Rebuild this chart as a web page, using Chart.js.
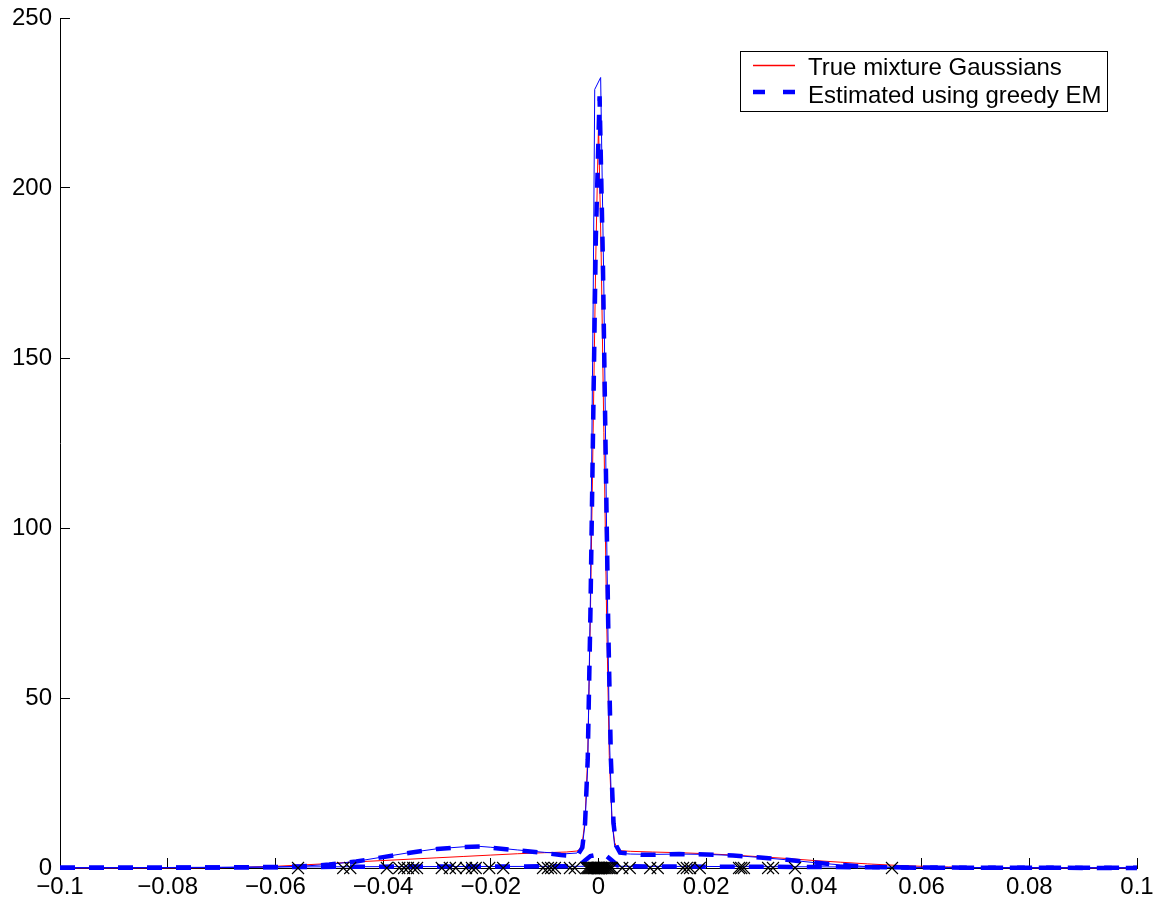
<!DOCTYPE html>
<html>
<head>
<meta charset="utf-8">
<script src="https://cdn.jsdelivr.net/npm/chart.js@4.4.1/dist/chart.umd.min.js"></script>
<style>
html,body{margin:0;padding:0;background:#ffffff;}
#wrap{width:1163px;height:907px;position:relative;}
</style>
</head>
<body>
<div id="wrap"><canvas id="c" width="1163" height="907"></canvas></div>
<script>
// ---- data ----
const seriesLabels = ['True mixture Gaussians', 'Estimated using greedy EM'];
const seriesColors = ['#ff0000', '#0000ff'];

// axis ranges
const xMin = -0.1, xMax = 0.1, xStep = 0.02;
const yMin = 0, yMax = 250, yStep = 50;

// true mixture (red, thin solid)
const redX = [-0.1, -0.09, -0.08, -0.07, -0.065, -0.06, -0.055, -0.05, -0.045, -0.04, -0.035, -0.03, -0.025, -0.02, -0.015, -0.01, -0.006, -0.004, -0.0035, -0.003, -0.0025, -0.002, -0.0015, -0.001, -0.0005, 0, 0.0005, 0.001, 0.0015, 0.002, 0.0025, 0.003, 0.0035, 0.004, 0.006, 0.01, 0.015, 0.02, 0.025, 0.03, 0.035, 0.04, 0.045, 0.05, 0.055, 0.06, 0.065, 0.07, 0.08, 0.09, 0.1];
const redY = [0.0, 0.01, 0.03, 0.1, 0.25, 0.5, 0.9, 1.3, 1.8, 2.2, 2.6, 3.0, 3.4, 3.8, 4.2, 4.5, 4.7, 5.0, 5.5, 7.5, 14, 33, 75, 128, 180, 219, 180, 128, 75, 33, 14, 7.5, 5.6, 5.1, 4.9, 4.7, 4.5, 4.2, 3.8, 3.3, 2.8, 2.2, 1.7, 1.2, 0.8, 0.5, 0.3, 0.15, 0.05, 0.01, 0.0];

// estimated mixture (blue, thick dashed)
const estX = [-0.1, -0.09, -0.08, -0.07, -0.06, -0.055, -0.05, -0.045, -0.04, -0.035, -0.03, -0.025, -0.022, -0.02, -0.015, -0.01, -0.007, -0.004, -0.003, -0.0025, -0.002, -0.0015, -0.001, -0.0005, 0.0002, 0.0008, 0.0013, 0.0018, 0.0023, 0.0028, 0.0033, 0.004, 0.006, 0.008, 0.01, 0.015, 0.02, 0.025, 0.03, 0.035, 0.04, 0.045, 0.05, 0.055, 0.06, 0.07, 0.08, 0.09, 0.1];
const estY = [0.05, 0.05, 0.08, 0.15, 0.3, 0.5, 1.0, 1.9, 3.2, 4.5, 5.6, 6.2, 6.3, 6.0, 5.2, 4.4, 3.8, 3.5, 6, 13, 32, 75, 130, 185, 227, 180, 125, 72, 32, 13, 6.5, 4.5, 4.2, 3.9, 3.9, 4.1, 4.0, 3.7, 3.1, 2.4, 1.6, 0.9, 0.35, 0.15, 0.08, 0.05, 0.05, 0.05, 0.05];

// low estimated component lying along the axis (blue, thick dashed)
const estLowX = [-0.1, -0.08, -0.06, -0.04, -0.02, -0.006, -0.0035, -0.0025, -0.0015, 0, 0.0015, 0.0025, 0.0035, 0.006, 0.02, 0.04, 0.06, 0.08, 0.1];
const estLowY = [0.05, 0.1, 0.25, 0.4, 0.45, 0.5, 0.8, 2.2, 3.5, 4.0, 3.5, 2.2, 0.8, 0.5, 0.4, 0.3, 0.15, 0.05, 0.02];

// estimate on a finer grid (blue, thin solid)
const fineX = [-0.1, -0.09, -0.08, -0.07, -0.06, -0.055, -0.05, -0.045, -0.04, -0.035, -0.03, -0.025, -0.022, -0.02, -0.015, -0.01, -0.006, -0.004, -0.003, -0.0025, -0.002, -0.0015, -0.001, -0.0007, 0.0004, 0.001, 0.0015, 0.002, 0.0025, 0.003, 0.004, 0.006, 0.01, 0.015, 0.02, 0.025, 0.03, 0.035, 0.04, 0.045, 0.05, 0.055, 0.06, 0.07, 0.08, 0.09, 0.1];
const fineY = [0.05, 0.05, 0.08, 0.15, 0.3, 0.55, 1.05, 1.95, 3.25, 4.55, 5.65, 6.25, 6.35, 6.1, 5.3, 4.6, 4.2, 4.4, 6.5, 13, 30, 80, 165, 229, 232.5, 170, 100, 40, 14, 6.5, 4.3, 4.1, 4.0, 4.1, 4.0, 3.7, 3.1, 2.4, 1.6, 0.9, 0.4, 0.15, 0.08, 0.05, 0.05, 0.05, 0.05];

// fine-grid low component (blue, thin solid)
const fineLowX = [-0.1, -0.08, -0.06, -0.04, -0.02, 0, 0.02, 0.04, 0.06, 0.08, 0.1];
const fineLowY = [0.1, 0.15, 0.3, 0.4, 0.45, 0.5, 0.45, 0.35, 0.2, 0.1, 0.05];

// data samples shown as crosses on the axis
const sampleX = [-0.0558, -0.0474, -0.0461, -0.0393, -0.0370, -0.0361, -0.0354, -0.0344, -0.0337, -0.0291, -0.0276, -0.0265, -0.0246, -0.0235, -0.0228, -0.0203, -0.0177, -0.0103, -0.0094, -0.0088, -0.0081, -0.0053, -0.0044,
  -0.0022, -0.0019, -0.0017, -0.0015, -0.0013, -0.0011, -0.0009, -0.0008, -0.0006, -0.0005, -0.0003, -0.0002, -0.0001, 0, 0.0001, 0.0002, 0.0004, 0.0005, 0.0007, 0.0009, 0.0011, 0.0013, 0.0016, 0.0019, 0.0022, 0.0025,
  0.0044, 0.0058, 0.0096, 0.0110, 0.0157, 0.0164, 0.0170, 0.0188, 0.0261, 0.0265, 0.0270, 0.0315, 0.0324, 0.0365, 0.0545];
const sampleY = 0;

// ---- build chart ----
function pts(xs, ys) { return xs.map((x, i) => ({x: x, y: ys[i]})); }

const FONT = "'Liberation Sans', Arial, Helvetica, sans-serif";

const boxLegend = {
  id: 'boxLegend',
  afterDraw(chart) {
    const ctx = chart.ctx;
    const ds = chart.data.datasets;
    ctx.save();
    ctx.fillStyle = '#ffffff';
    ctx.fillRect(741, 52, 366, 59);
    ctx.strokeStyle = '#000000';
    ctx.lineWidth = 1;
    ctx.strokeRect(740.5, 51.5, 367, 60);
    const rows = [{d: ds[0], c: seriesColors[0], w: 1.4, y: 65.5, base: 75}, {d: ds[1], c: seriesColors[1], w: 4.5, y: 92, base: 102.5}];
    rows.forEach(r => {
      ctx.beginPath();
      ctx.strokeStyle = r.c;
      ctx.lineWidth = r.w;
      ctx.setLineDash(r.d.borderDash ? [12, 18] : []);
      ctx.moveTo(753, r.y);
      ctx.lineTo(795, r.y);
      ctx.stroke();
      ctx.setLineDash([]);
      ctx.fillStyle = '#000000';
      ctx.font = '24px ' + FONT;
      ctx.textAlign = 'left';
      ctx.textBaseline = 'alphabetic';
      ctx.fillText(r.d.label, 808, r.base);
    });
    ctx.restore();
  }
};

const lineBase = {pointRadius: 0, pointHoverRadius: 0, tension: 0, fill: false, clip: 6};

new Chart(document.getElementById('c'), {
  type: 'line',
  data: {
    datasets: [
      Object.assign({}, lineBase, {label: seriesLabels[0], data: pts(redX, redY), borderColor: seriesColors[0], borderWidth: 1, order: 3}),
      Object.assign({}, lineBase, {label: seriesLabels[1], data: pts(estX, estY), borderColor: seriesColors[1], borderWidth: 4.5, borderDash: [15, 14], order: 1}),
      Object.assign({}, lineBase, {label: 'est-low', data: pts(estLowX, estLowY), borderColor: seriesColors[1], borderWidth: 4.5, borderDash: [15, 14], order: 1}),
      Object.assign({}, lineBase, {label: 'fine', data: pts(fineX, fineY), borderColor: seriesColors[1], borderWidth: 1, order: 2}),
      Object.assign({}, lineBase, {label: 'fine-low', data: pts(fineLowX, fineLowY), borderColor: seriesColors[1], borderWidth: 1, order: 2}),
      {label: 'samples', data: sampleX.map(x => ({x: x, y: sampleY})), showLine: false, pointStyle: 'crossRot', pointRadius: 8.5, pointHoverRadius: 8.5, borderColor: '#000000', backgroundColor: '#000000', pointBorderWidth: 1.1, borderWidth: 1.1, order: 0, clip: false}
    ]
  },
  options: {
    responsive: false,
    animation: false,
    devicePixelRatio: 1,
    events: [],
    layout: {padding: {top: 18, right: 26, left: 0, bottom: 0}},
    plugins: {legend: {display: false}, tooltip: {enabled: false}, title: {display: false}},
    scales: {
      x: {
        type: 'linear', position: 'bottom', min: xMin, max: xMax,
        grid: {drawOnChartArea: false, drawTicks: true, tickLength: -10, color: '#000000', lineWidth: 1},
        border: {display: true, color: '#000000', width: 1},
        ticks: {
          stepSize: xStep, padding: 15, color: '#000000', maxRotation: 0, autoSkip: false,
          font: {family: FONT, size: 24},
          callback: v => { const r = Math.round(v * 100) / 100; if (r === 0) return '0'; return String(r).replace('-', '\u2212'); }
        },
        afterFit: s => { s.height = 39; s.paddingLeft = 0; s.paddingRight = 0; }
      },
      y: {
        type: 'linear', position: 'left', min: yMin, max: yMax,
        grid: {drawOnChartArea: false, drawTicks: true, tickLength: -10, color: '#000000', lineWidth: 1},
        border: {display: true, color: '#000000', width: 1},
        ticks: {stepSize: yStep, padding: 18, color: '#000000', font: {family: FONT, size: 24}},
        afterFit: s => { s.width = 60; s.paddingTop = 0; s.paddingBottom = 0; }
      }
    }
  },
  plugins: [boxLegend]
});
</script>
</body>
</html>
